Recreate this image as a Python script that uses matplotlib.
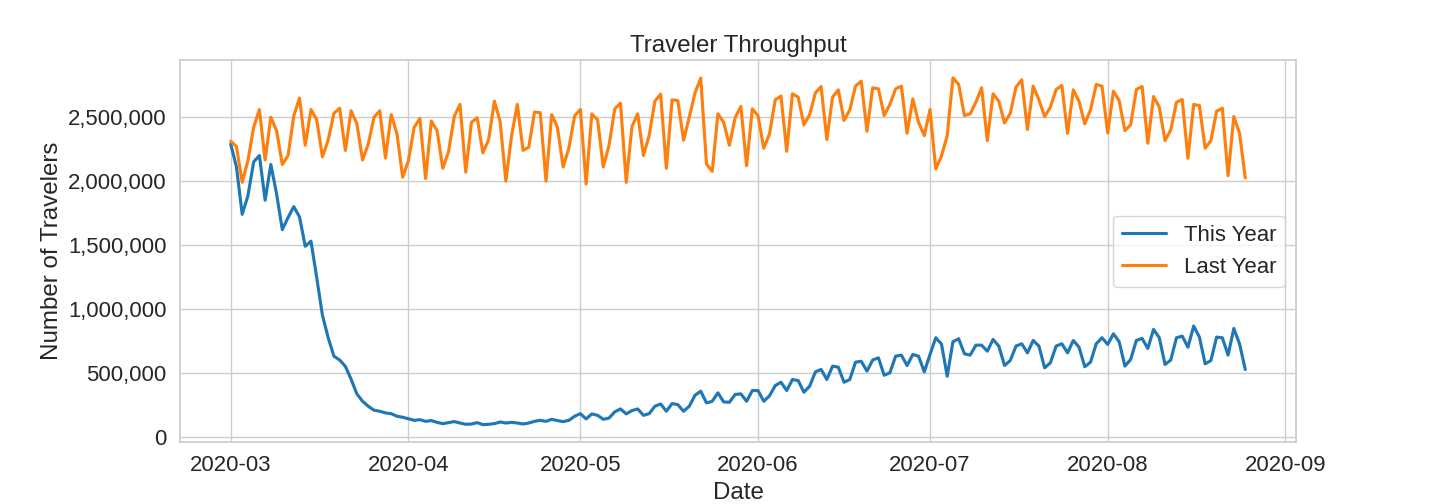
# traveler throughput chart
import matplotlib
matplotlib.use('Agg')
import matplotlib.pyplot as plt
import matplotlib.ticker as mticker
import pandas as pd
import seaborn as sns

start_date = '2020-03-01'

# daily travelers, thousands
this_year = [
    2290, 2110, 1740, 1885, 2150, 2200, 1850, 2130, 1900, 1620, 1715, 1800, 1720, 1490, 1530, 1245,
    950, 775, 630, 600, 550, 450, 335, 277, 238, 207, 199, 186, 180, 160, 152, 140,
    128, 133, 120, 126, 112, 102, 110, 118, 107, 97, 99, 110, 94, 97, 102, 115,
    107, 112, 107, 99, 107, 120, 128, 120, 136, 126, 118, 128, 160, 180, 139,
    178, 167, 136, 146, 194, 217, 178, 204, 217, 167, 180, 238, 256, 199, 259, 251,
    199, 238, 324, 356, 264, 277, 343, 272, 269, 330, 335, 277, 361, 361, 277, 320,
    400, 426, 361, 447, 439, 348, 395, 507, 526, 447, 552, 544, 426, 447, 583,
    590, 513, 600, 617, 481, 500, 630, 638, 557, 643, 630, 507, 643, 774, 725,
    473, 743, 766, 649, 638, 716, 716, 669, 761, 709, 557, 596, 709, 727, 656,
    753, 709, 539, 578, 709, 727, 656, 753, 700, 547, 583, 727, 774, 722, 805,
    743, 552, 604, 753, 769, 690, 840, 774, 565, 600, 774, 787, 700, 866, 779,
    570, 596, 779, 774, 638, 847, 727, 526,
]
last_year = [
    2312, 2270, 1990, 2160, 2420, 2560, 2165, 2500, 2395, 2130, 2200, 2510, 2650, 2280, 2560, 2480,
    2190, 2320, 2530, 2570, 2240, 2550, 2450, 2165, 2290, 2500, 2550, 2180, 2520, 2370, 2030, 2160,
    2420, 2490, 2020, 2470, 2395, 2100, 2230, 2505, 2600, 2070, 2460, 2495, 2220, 2325, 2625, 2466,
    2000, 2356, 2600, 2240, 2265, 2540, 2535, 2000, 2520, 2420, 2110, 2260, 2510, 2560, 1977,
    2526, 2480, 2110, 2280, 2565, 2610, 1990, 2427, 2526, 2200, 2356, 2625, 2680, 2100, 2636, 2630,
    2320, 2500, 2690, 2806, 2134, 2076, 2526, 2460, 2280, 2495, 2584, 2120, 2565, 2510, 2257, 2370,
    2636, 2665, 2233, 2683, 2657, 2440, 2520, 2690, 2740, 2325, 2657, 2714, 2474, 2557, 2743,
    2782, 2390, 2730, 2722, 2513, 2600, 2722, 2743, 2374, 2643, 2460, 2356, 2560, 2095, 2195,
    2356, 2808, 2756, 2513, 2526, 2617, 2730, 2317, 2683, 2625, 2455, 2530, 2735, 2793, 2403,
    2743, 2636, 2505, 2578, 2717, 2748, 2374, 2714, 2623, 2448, 2557, 2756, 2743, 2377, 2704,
    2630, 2395, 2440, 2717, 2740, 2296, 2662, 2578, 2317, 2400, 2617, 2638, 2178, 2600, 2590,
    2257, 2317, 2547, 2570, 2042, 2505, 2374, 2024,
]


def main():
    sns.set_theme(style='whitegrid', context='notebook', font_scale=1.45)
    plt.rcParams['font.family'] = ['Liberation Sans', 'DejaVu Sans']
    dates = pd.date_range(start_date, periods=len(this_year), freq='D')
    build_graph(dates, this_year, last_year)


def build_graph(dates, now, before):
    fig, ax = plt.subplots(figsize=(14.4, 5.04), dpi=100)
    fig.subplots_adjust(left=0.125, right=0.9, top=0.88, bottom=0.123)
    ax.plot(dates, [v * 1000 for v in now], color='#1f77b4', lw=2.25, label='This Year')
    ax.plot(dates, [v * 1000 for v in before], color='#ff7f0e', lw=2.25, label='Last Year')
    ax.set_title('Traveler Throughput')
    ax.set_xlabel('Date')
    ax.set_ylabel('Number of Travelers')
    ax.yaxis.set_major_formatter(mticker.StrMethodFormatter('{x:,.0f}'))
    ax.legend(loc='center right')
    fig.savefig('out.png', dpi=100)


main()
